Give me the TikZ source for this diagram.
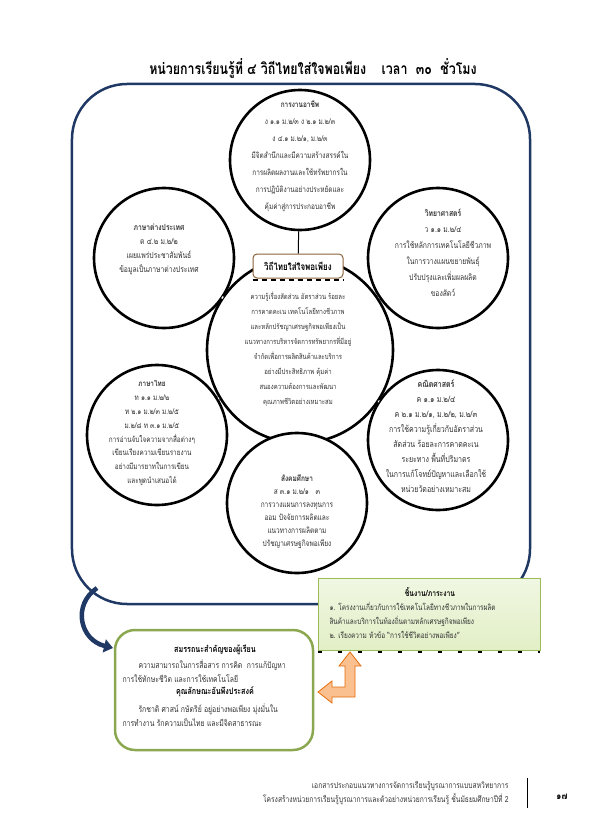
\documentclass[tikz,border=0pt]{standalone}
\usepackage{fontspec}
\setmainfont{Loma}[Script=Thai, FakeStretch=0.8]
\usetikzlibrary{positioning,arrows.meta}

\definecolor{frameblue}{HTML}{1F3864}
\definecolor{boxgreen}{HTML}{9BBB59}
\definecolor{palegreen}{HTML}{E2EFC6}
\definecolor{peach}{HTML}{FAC08F}
\definecolor{orangeline}{HTML}{E46C0A}
\definecolor{tanline}{HTML}{8C6239}

\begin{document}
\begin{tikzpicture}[x=1bp, y=-1bp, >=stealth,
    every node/.style={font=\fontsize{8.5}{14}\selectfont, text=black!80},
    subject/.style={circle, draw=black, line width=2.6bp, fill=white, minimum size=140bp, inner sep=0pt},
    subtext/.style={align=center},
    link/.style={draw=black, line width=0.8bp, double, double distance=2.5bp}]
  \useasboundingbox (0,0) rectangle (595,836);

  \node[font=\fontsize{15.6}{18}\selectfont\bfseries, text=black] (title) at (313,68)
    {หน่วยการเรียนรู้ที่ ๔ วิถีไทยใส่ใจพอเพียง\quad เวลา\ \ ๓๐\ \ ชั่วโมง};

  % frame round the subjects
  \node[draw=frameblue, line width=2.5bp, rounded corners=55bp,
        minimum width=458bp, minimum height=520bp] (frame) at (301,344) {};

  % subjects
  \node[subject] (core) at (300,350) [minimum size=186bp] {};
  \node[subject] (work) at (300,160) {};
  \node[subject] (lang) at (164,258) {};
  \node[subject] (sci) at (438,258) {};
  \node[subject] (thai) at (157,435) {};
  \node[subject] (math) at (438,440) {};
  \node[subject] (soc) at (297,503) {};

  \draw[link] (core) -- (lang);
  \draw[link] (core) -- (sci);
  \draw[link] (core) -- (thai);
  \draw[link] (core) -- (math);

  \node[draw=tanline, line width=1bp, rounded corners=4bp, fill=white,
        minimum width=90bp, minimum height=24bp,
        font=\fontsize{10}{12}\selectfont\bfseries, text=black] (theme) at (298,266) {วิถีไทยใส่ใจพอเพียง};
  \draw[line width=1bp] (work) -- (theme);
  \draw[line width=1.5bp, dash pattern=on 5bp off 4bp] ([yshift=-1.5bp]theme.south west) -- ([yshift=-1.5bp]theme.south east);

  \node[subtext, font=\fontsize{7.5}{15}\selectfont] (coreT) at (298,349)
    {ความรู้เรื่องสัดส่วน อัตราส่วน ร้อยละ\\การคาดคะเน เทคโนโลยีทางชีวภาพ\\
     และหลักปรัชญาเศรษฐกิจพอเพียงเป็น\\แนวทางการบริหารจัดการทรัพยากรที่มีอยู่\\
     จำกัดเพื่อการผลิตสินค้าและบริการ\\อย่างมีประสิทธิภาพ คุ้มค่า\\
     สนองความต้องการและพัฒนา\\คุณภาพชีวิตอย่างเหมาะสม};
  \node[subtext, font=\fontsize{8.1}{17}\selectfont] (workT) at (300,156)
    {\textbf{การงานอาชีพ}\\ง ๑.๑ ม.๒/๓ ง ๒.๑ ม.๒/๓\\ง ๔.๑ ม.๒/๑, ม.๒/๓\\
     มีจิตสำนึกและมีความสร้างสรรค์ใน\\การผลิตผลงานและใช้ทรัพยากรใน\\
     การปฏิบัติงานอย่างประหยัดและ\\คุ้มค่าสู่การประกอบอาชีพ};
  \node[subtext, font=\fontsize{8.5}{14}\selectfont] (langT) at (159,249)
    {\textbf{ภาษาต่างประเทศ}\\ต ๔.๒ ม.๒/๒\\เผยแพร่ประชาสัมพันธ์\\ข้อมูลเป็นภาษาต่างประเทศ};
  \node[subtext, font=\fontsize{8.5}{16}\selectfont] (sciT) at (443,253)
    {\textbf{วิทยาศาสตร์}\\ว ๑.๑ ม.๒/๔\\การใช้หลักการเทคโนโลยีชีวภาพ\\
     ในการวางแผนขยายพันธุ์\\ปรับปรุงและเพิ่มผลผลิต\\ของสัตว์};
  \node[subtext, font=\fontsize{8}{14}\selectfont] (thaiT) at (152,433)
    {\textbf{ภาษาไทย}\\ท ๑.๑ ม.๒/๒\\ท ๒.๑ ม.๒/๓ ม.๒/๕\\ม.๒/๘ ท ๓.๑ ม.๒/๕\\
     การอ่านจับใจความจากสื่อต่างๆ\\เขียนเรียงความเขียนรายงาน\\
     อย่างมีมารยาทในการเขียน\\และพูดนำเสนอได้};
  \node[subtext, font=\fontsize{8.8}{15}\selectfont] (mathT) at (436,436)
    {\textbf{คณิตศาสตร์}\\ค ๑.๑ ม.๒/๔\\ค ๒.๑ ม.๒/๑, ม.๒/๒, ม.๒/๓\\
     การใช้ความรู้เกี่ยวกับอัตราส่วน\\สัดส่วน ร้อยละการคาดคะเน\\
     ระยะทาง พื้นที่ปริมาตร\\ในการแก้โจทย์ปัญหาและเลือกใช้\\หน่วยวัดอย่างเหมาะสม};
  \node[subtext, font=\fontsize{8.2}{13}\selectfont] (socT) at (297,512)
    {\textbf{สังคมศึกษา}\\ส ๓.๑ ม.๒/๑\ \ \ ๓\\การวางแผนการลงทุนการ\\
     ออม ปัจจัยการผลิตและ\\แนวทางการผลิตตาม\\ปรัชญาเศรษฐกิจพอเพียง};

  % work pieces
  \node[draw=boxgreen, line width=0.8bp, top color=palegreen!50, bottom color=palegreen,
        minimum width=222bp, minimum height=72bp] (task) at (429,614) {};
  \draw[line width=1.5bp, dash pattern=on 4bp off 16bp] ([yshift=-1.5bp]task.south west) -- ([yshift=-1.5bp]task.south east);
  \node[font=\fontsize{8.5}{13}\selectfont\bfseries, text=black] (taskH) at (430,592) {ชิ้นงาน/ภาระงาน};
  \node[anchor=west, align=left, font=\fontsize{8.1}{14}\selectfont] (taskT) at (326,620)
    {๑. โครงงานเกี่ยวกับการใช้เทคโนโลยีทางชีวภาพในการผลิต\\
     สินค้าและบริการในท้องถิ่นตามหลักเศรษฐกิจพอเพียง\\
     ๒. เรียงความ หัวข้อ “การใช้ชีวิตอย่างพอเพียง”};

  % learner qualities
  \node[draw=boxgreen!90!black, line width=2.5bp, rounded corners=20bp, fill=white,
        minimum width=198bp, minimum height=120bp] (skills) at (214,690) {};
  \node[font=\fontsize{9}{13}\selectfont\bfseries, text=black] (skillsH) at (215,650) {สมรรถนะสำคัญของผู้เรียน};
  \node[anchor=west, align=left, font=\fontsize{8.6}{14.5}\selectfont] (skillsT) at (119,671)
    {\hspace{16bp}ความสามารถในการสื่อสาร การคิด\ \ การแก้ปัญหา\\
     การใช้ทักษะชีวิต และการใช้เทคโนโลยี};
  \node[font=\fontsize{9}{13}\selectfont\bfseries, text=black] (traitsH) at (215,692) {คุณลักษณะอันพึงประสงค์};
  \node[anchor=west, align=left, font=\fontsize{8.6}{14.5}\selectfont] (traitsT) at (119,715)
    {\hspace{16bp}รักชาติ ศาสน์ กษัตริย์ อยู่อย่างพอเพียง มุ่งมั่นใน\\
     การทำงาน รักความเป็นไทย และมีจิตสาธารณะ};

  \coordinate (tail) at (97,588);
  \coordinate (entry) at (113,648);
  \draw[frameblue, line width=4.5bp, -{Triangle[length=9bp,width=13bp]}]
    (tail) .. controls (72,605) and (80,640) .. (entry);

  % two-headed bent arrow
  \filldraw[draw=orangeline, fill=peach, line width=0.8bp]
    (350,652) -- (361,666) -- (355,666) -- (355,697) -- (332,697) -- (332,703)
    -- (318,692) -- (332,681) -- (332,687) -- (345,687) -- (345,666) -- (339,666) -- cycle;

  % footer
  \node[anchor=east, align=right, font=\fontsize{8.4}{14}\selectfont] (foot) at (512,793)
    {เอกสารประกอบแนวทางการจัดการเรียนรู้บูรณาการแบบสหวิทยาการ\\
     โครงสร้างหน่วยการเรียนรู้บูรณาการและตัวอย่างหน่วยการเรียนรู้ ชั้นมัธยมศึกษาปีที่ 2};
  \node[font=\fontsize{10}{12}\selectfont\bfseries, text=black] (page) at (562,797) {๑๗};
  \draw[line width=0.8bp] ([xshift=15bp]foot.north east) -- ([xshift=15bp]foot.south east);
\end{tikzpicture}
\end{document}
